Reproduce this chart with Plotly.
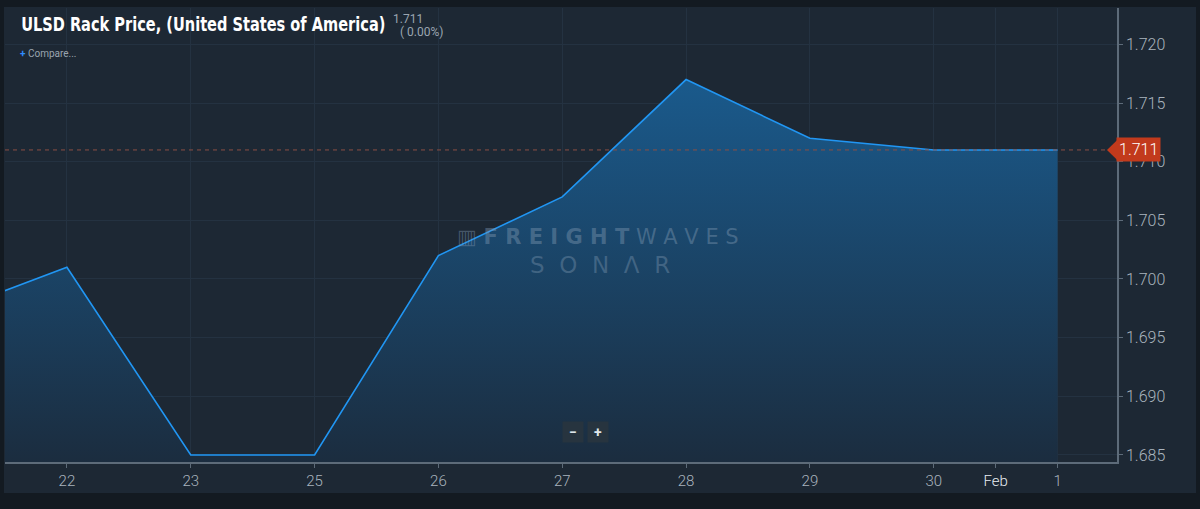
import plotly.graph_objects as go

# ---- data ----
dates = ["Jan 21", "Jan 22", "Jan 23", "Jan 25", "Jan 26", "Jan 27",
         "Jan 28", "Jan 29", "Jan 30", "Feb 1"]
prices = [1.697, 1.701, 1.685, 1.685, 1.702, 1.707, 1.717, 1.712, 1.711, 1.711]
tick_labels = ["22", "23", "25", "26", "27", "28", "29", "30", "Feb", "1"]
tick_slots = [1, 2, 3, 4, 5, 6, 7, 8, 8.5, 9]
y_ticks = [1.685, 1.690, 1.695, 1.700, 1.705, 1.710, 1.715, 1.720]
last_price = 1.711

x_idx = list(range(len(dates)))

W, H = 1200, 509
L, R, T, B = 5, 83, 8, 47
pw, ph = W - L - R, H - T - B


def px(xp):
    return (xp - L) / pw


def py(yp):
    return (H - B - yp) / ph


fig = go.Figure()
fig.add_trace(go.Scatter(
    x=x_idx, y=prices, mode="lines",
    line=dict(color="#2196f3", width=1.6),
    fill="tozeroy",
    fillgradient=dict(type="vertical", start=1.684, stop=1.717,
                      colorscale=[[0, "#1b2c3e"], [1, "#1a5a8c"]]),
    hoverinfo="skip", text=dates,
))

ticktext = [('<span style="color:#e8edf2">%s</span>' % t) if t == "Feb" else t
            for t in tick_labels]

fig.update_layout(
    width=W, height=H,
    margin=dict(l=L, r=R, t=T, b=B),
    paper_bgcolor="#131a21",
    plot_bgcolor="#1d2834",
    showlegend=False,
    xaxis=dict(range=[0.5, 9.48], tickvals=tick_slots, ticktext=ticktext,
               showgrid=True, gridcolor="#243241", gridwidth=1,
               zeroline=False, showline=True, linecolor="#5d6b79", linewidth=1.5,
               ticks="outside", ticklen=4, tickcolor="#5d6b79",
               tickfont=dict(family="Roboto", size=15, color="#aab4be", weight=300)),
    yaxis=dict(side="right", range=[1.6844, 1.7231], tickvals=y_ticks,
               tickformat=".3f",
               showgrid=True, gridcolor="#243241", gridwidth=1,
               zeroline=False, showline=True, linecolor="#5d6b79", linewidth=1.5,
               ticks="outside", ticklen=4, tickcolor="#5d6b79",
               tickfont=dict(family="Roboto", size=16, color="#aab4be", weight=300)),
)

# panel background
fig.add_shape(type="rect", xref="paper", yref="paper", layer="below",
              x0=px(4), x1=px(1196), y0=py(493), y1=py(7),
              fillcolor="#1d2834", line_width=0)

# last price dashed line
fig.add_shape(type="line", xref="paper", yref="y", x0=0, x1=1,
              y0=last_price, y1=last_price,
              line=dict(color="#8c4f45", width=1, dash="4px,4px"))
# red price tag
fig.add_shape(type="path", xref="paper", yref="y",
              path="M %f %f L %f %f L %f %f Z" % (px(1107), last_price,
                                                   px(1118), last_price + 0.00092,
                                                   px(1118), last_price - 0.00092),
              fillcolor="#c23a1c", line_width=0)
fig.add_annotation(xref="paper", yref="y", x=px(1116), y=last_price,
                   xanchor="left", yanchor="middle", showarrow=False,
                   text="1.711", bgcolor="#c23a1c", borderpad=2,
                   font=dict(family="Roboto", size=16, color="#ffffff", weight=300))

# title block
fig.add_annotation(xref="paper", yref="paper", x=px(19), y=py(24),
                   xanchor="left", yanchor="middle", showarrow=False,
                   text="<b>ULSD Rack Price, (United States of America)</b>",
                   font=dict(family="DejaVu Sans Condensed, Roboto",
                             size=20, color="#ffffff"))
fig.add_annotation(xref="paper", yref="paper", x=px(391), y=py(19),
                   xanchor="left", yanchor="middle", showarrow=False,
                   text="1.711", font=dict(family="Roboto", size=12, color="#9aa5b0"))
fig.add_annotation(xref="paper", yref="paper", x=px(398), y=py(32),
                   xanchor="left", yanchor="middle", showarrow=False,
                   text="( 0.00%)", font=dict(family="Roboto", size=12, color="#9aa5b0"))
fig.add_annotation(xref="paper", yref="paper", x=px(18), y=py(53),
                   xanchor="left", yanchor="middle", showarrow=False,
                   text='<span style="color:#2f8cff"><b>+</b></span> Compare...',
                   font=dict(family="Roboto", size=10, color="#9aa5b0"))

# watermark
fig.add_annotation(xref="paper", yref="paper", x=px(598), y=py(237),
                   xanchor="center", yanchor="middle", showarrow=False,
                   text="▥ <b>F R E I G H T</b> W A V E S",
                   font=dict(family="DejaVu Sans", size=21,
                             color="rgba(130,155,180,0.42)"))
fig.add_annotation(xref="paper", yref="paper", x=px(600), y=py(265),
                   xanchor="center", yanchor="middle", showarrow=False,
                   text="S  O  N  Λ  R",
                   font=dict(family="DejaVu Sans", size=23,
                             color="rgba(130,155,180,0.38)"))

# zoom buttons
for xp, t in [(573, "−"), (598, "+")]:
    fig.add_annotation(xref="paper", yref="paper", x=px(xp), y=py(432),
                       xanchor="center", yanchor="middle", showarrow=False,
                       text="<b>%s</b>" % t, bgcolor="#27343f", borderpad=2,
                       width=16, height=16,
                       font=dict(family="Roboto", size=14, color="#dfe5ea"))

post = (
    "document.body.style.margin='0';"
    "document.body.style.background='#131a21';"
    "document.querySelectorAll('text.annotation-text').forEach(function(el){"
    "  if(el.textContent.indexOf('ULSD')===0){"
    "    el.style.transformBox='fill-box';"
    "    el.style.transformOrigin='left center';"
    "    el.style.transform='scaleX(0.81)';"
    "  }"
    "});"
)

fig.write_html("out.html", post_script=post,
               config={"displayModeBar": False})
